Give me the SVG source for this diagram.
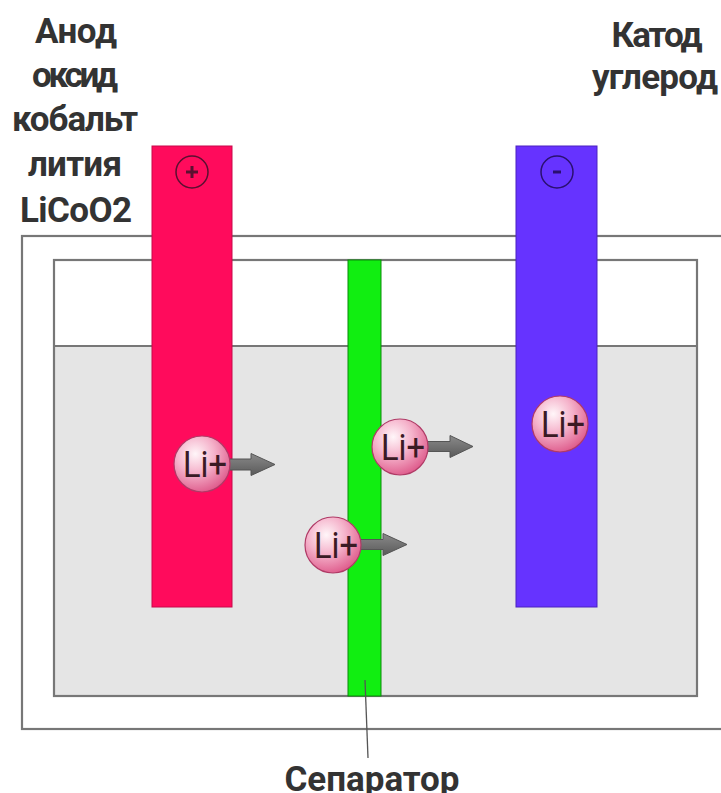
<svg xmlns="http://www.w3.org/2000/svg" width="721" height="793" viewBox="0 0 721 793">
<defs>
<radialGradient id="ball" cx="0.38" cy="0.32" r="0.75">
<stop offset="0" stop-color="#fff6f9"/>
<stop offset="0.45" stop-color="#f5b3cb"/>
<stop offset="1" stop-color="#dc5285"/>
</radialGradient>
<linearGradient id="arr" x1="0" y1="0" x2="0" y2="1">
<stop offset="0" stop-color="#8a8a8a"/>
<stop offset="1" stop-color="#5a5a5a"/>
</linearGradient>
<g id="liball">
<circle r="28" fill="url(#ball)" stroke="#b03a66" stroke-width="1.2"/>
<text x="3" y="13" class="li" textLength="44" lengthAdjust="spacingAndGlyphs">Li+</text>
</g>
</defs>
<style>
.lbl{font-family:Roboto,"Liberation Sans",sans-serif;font-weight:bold;font-size:35px;fill:#333;text-anchor:middle}
.li{font-family:Roboto,"Liberation Sans",sans-serif;font-size:37px;fill:#3a1a24;text-anchor:middle}
.box{fill:none;stroke:#777;stroke-width:2.2}
.arrow{fill:url(#arr);stroke:#555;stroke-width:1}
</style>
<rect width="721" height="793" fill="#fff"/>
<g id="container">
<rect x="22" y="236" width="720" height="493" class="box" fill="#fff"/>
<rect x="54" y="346" width="643" height="350" fill="#e5e5e5"/>
<rect x="54" y="260" width="643" height="436" class="box"/>
<line x1="54" y1="346" x2="697" y2="346" stroke="#777" stroke-width="2"/>
</g>
<g id="anode">
<rect x="152" y="146" width="80" height="461" fill="#ff0b5c" stroke="#c8084a" stroke-width="1"/>
<circle cx="192" cy="172" r="16" fill="none" stroke="#5a1030" stroke-width="1.5"/>
<path d="M186 172h12M192 166v12" stroke="#5a1030" stroke-width="3"/>
<text class="lbl" lengthAdjust="spacingAndGlyphs"><tspan x="76" y="43" textLength="82">Анод</tspan><tspan x="75" y="87" textLength="86">оксид</tspan><tspan x="75" y="131" textLength="126">кобальт</tspan><tspan x="75" y="176" textLength="94">лития</tspan><tspan x="76" y="222" textLength="112">LiCoO2</tspan></text>
</g>
<g id="cathode">
<rect x="516" y="146" width="81" height="461" fill="#6633ff" stroke="#4a22c0" stroke-width="1"/>
<circle cx="557" cy="172" r="16" fill="none" stroke="#2a1070" stroke-width="1.5"/>
<path d="M553 172h8" stroke="#2a1070" stroke-width="3"/>
<text class="lbl"><tspan x="657" y="47" textLength="91">Катод</tspan><tspan x="655" y="89" textLength="126">углерод</tspan></text>
</g>
<g id="separator">
<rect x="348" y="260" width="33" height="436" fill="#11ee11" stroke="#0a8a0a" stroke-width="1"/>
<text class="lbl" x="372" y="791" textLength="175">Сепаратор</text>
</g>
<g id="connectors">
<line x1="365" y1="680" x2="368" y2="758" stroke="#555" stroke-width="1.3"/>
<path class="arrow" d="M226 459h25v-5.5l24 11-24 11v-5.5h-25z"/>
<path class="arrow" d="M425 441.5h25v-6l23 11-23 11v-6h-25z"/>
<path class="arrow" d="M358 539.5h25v-6l24 11-24 11v-6h-25z"/>
</g>
<g id="ions">
<use href="#liball" x="202" y="464"/>
<use href="#liball" x="400" y="447"/>
<use href="#liball" x="333" y="545"/>
<use href="#liball" x="560" y="424"/>
</g>
</svg>
